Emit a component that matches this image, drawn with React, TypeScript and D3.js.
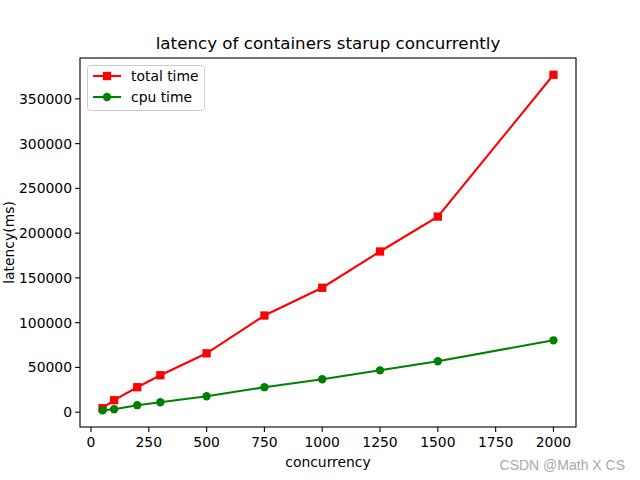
import React from "react";
import * as d3 from "d3";

const concurrency = [50, 100, 200, 300, 500, 750, 1000, 1250, 1500, 2000];
const totalTime = [4500, 13400, 27900, 41300, 65800, 108000, 139000, 179500, 218500, 376900];
const cpuTime = [2200, 3300, 7800, 11100, 17800, 27900, 36800, 46800, 56900, 80300];
const xTicks = [0, 250, 500, 750, 1000, 1250, 1500, 1750, 2000];
const yTicks = [0, 50000, 100000, 150000, 200000, 250000, 300000, 350000];

const W = 640, H = 480;
const L = 80, R = 576, T = 58, B = 427;
const FONT = "DejaVu Sans, sans-serif";

export default function App() {
  const x = d3.scaleLinear().domain([-47.5, 2097.5]).range([L, R]);
  const y = d3.scaleLinear().domain([-16535, 395635]).range([B, T]);
  const line = (vals: number[]) =>
    d3.line<number>().x((_, i) => x(concurrency[i])).y((v) => y(v))(vals) || "";
  const ms = 8.3;
  return (
    <svg width={W} height={H} style={{ position: "absolute", left: 0, top: 0 }} fontFamily={FONT}>
      <rect x={0} y={0} width={W} height={H} fill="white" />
      <text x={(L + R) / 2} y={49} textAnchor="middle" fontSize={16.7}>
        latency of containers starup concurrently
      </text>
      <path d={line(totalTime)} fill="none" stroke="red" strokeWidth={2.08} />
      {totalTime.map((v, i) => (
        <rect key={i} x={x(concurrency[i]) - ms / 2} y={y(v) - ms / 2} width={ms} height={ms} fill="red" />
      ))}
      <path d={line(cpuTime)} fill="none" stroke="green" strokeWidth={2.08} />
      {cpuTime.map((v, i) => (
        <circle key={i} cx={x(concurrency[i])} cy={y(v)} r={ms / 2} fill="green" />
      ))}
      <rect x={L} y={T} width={R - L} height={B - T} fill="none" stroke="black" strokeWidth={1.1} />
      {xTicks.map((t) => (
        <g key={t}>
          <line x1={x(t)} x2={x(t)} y1={B} y2={B + 4.9} stroke="black" strokeWidth={1.1} />
          <text x={x(t)} y={B + 20} textAnchor="middle" fontSize={13.9}>{t}</text>
        </g>
      ))}
      {yTicks.map((t) => (
        <g key={t}>
          <line x1={L - 4.9} x2={L} y1={y(t)} y2={y(t)} stroke="black" strokeWidth={1.1} />
          <text x={L - 8} y={y(t) + 5} textAnchor="end" fontSize={13.9}>{t}</text>
        </g>
      ))}
      <text x={(L + R) / 2} y={467} textAnchor="middle" fontSize={13.9}>concurrency</text>
      <text transform={`translate(14,${(T + B) / 2}) rotate(-90)`} textAnchor="middle" fontSize={13.9}>
        latency(ms)
      </text>
      <rect x={87.5} y={65.5} width={117} height={45} rx={3} fill="white" fillOpacity={0.8} stroke="#cccccc" strokeWidth={1} />
      <line x1={93} x2={121} y1={76} y2={76} stroke="red" strokeWidth={2.08} />
      <rect x={107 - ms / 2} y={76 - ms / 2} width={ms} height={ms} fill="red" />
      <text x={131} y={81} fontSize={13.9}>total time</text>
      <line x1={93} x2={121} y1={97} y2={97} stroke="green" strokeWidth={2.08} />
      <circle cx={107} cy={97} r={ms / 2} fill="green" />
      <text x={131} y={102} fontSize={13.9}>cpu time</text>
      <text x={625} y={470} textAnchor="end" fontSize={14} fill="#aaaaaa" fontFamily="Liberation Sans, Arial, sans-serif">
        CSDN @Math X CS
      </text>
    </svg>
  );
}
